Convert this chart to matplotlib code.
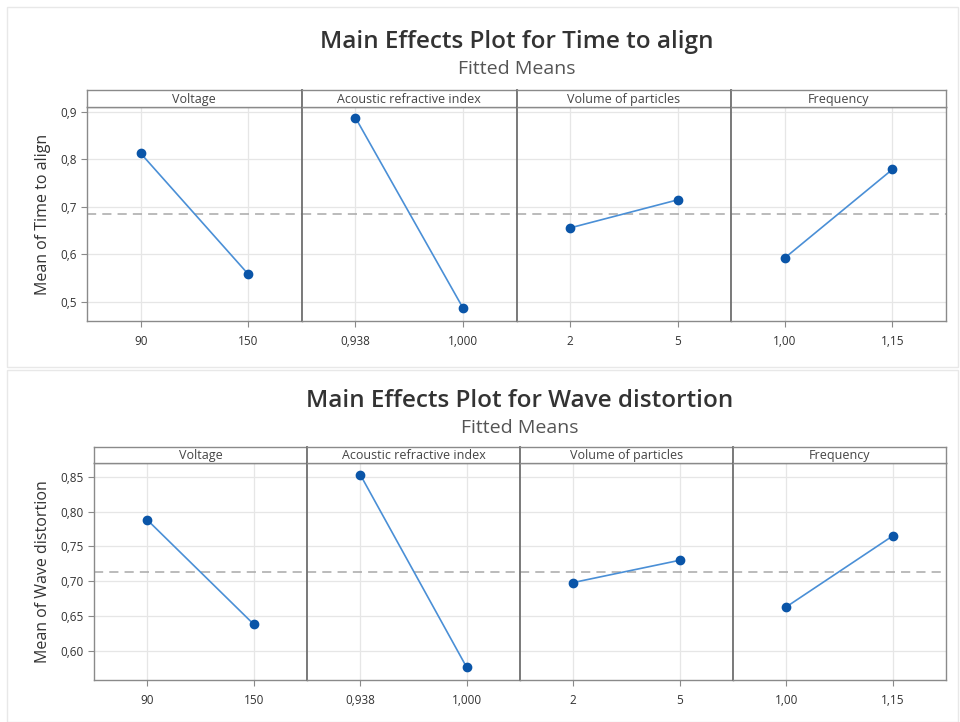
import matplotlib
matplotlib.use("Agg")
import matplotlib.pyplot as plt
from matplotlib.patches import Rectangle

plt.rcParams["font.family"] = ["Open Sans", "DejaVu Sans"]

factors = ["Voltage", "Acoustic refractive index", "Volume of particles", "Frequency"]
level_labels = [["90", "150"], ["0,938", "1,000"], ["2", "5"], ["1,00", "1,15"]]

time_means = [[0.813, 0.559], [0.888, 0.488], [0.656, 0.715], [0.593, 0.779]]
time_overall = 0.686
time_ticks = [0.5, 0.6, 0.7, 0.8, 0.9]
time_ticklabels = ["0,5", "0,6", "0,7", "0,8", "0,9"]

wave_means = [[0.788, 0.638], [0.853, 0.576], [0.698, 0.730], [0.663, 0.765]]
wave_overall = 0.713
wave_ticks = [0.60, 0.65, 0.70, 0.75, 0.80, 0.85]
wave_ticklabels = ["0,60", "0,65", "0,70", "0,75", "0,80", "0,85"]

W, H = 960, 722
LINE = "#4a8fd6"
DOT = "#0a55a8"
FRAME = "#8a8a8a"


def box(x0, y0, x1, y1):
    return [x0 / W, 1 - y1 / H, (x1 - x0) / W, (y1 - y0) / H]


def draw_chart(fig, title, ylabel, means, overall, ylim, ticks, ticklabels,
               left, right, strip_top, plot_top, bottom, title_y, ylabel_x):
    pw = (right - left) / len(factors)
    for i, name in enumerate(factors):
        x0 = left + i * pw
        ax = fig.add_axes(box(x0, plot_top, x0 + pw, bottom))
        ax.plot([0, 1], means[i], color=LINE, lw=1.2, zorder=3)
        ax.plot([0, 1], means[i], "o", color=DOT, ms=6, zorder=4)
        ax.axhline(overall, color="#a8a8a8", lw=1.1, ls=(0, (6, 4)), zorder=2)
        ax.set_xlim(-0.5, 1.5)
        ax.set_ylim(*ylim)
        ax.set_xticks([0, 1])
        ax.set_xticklabels(level_labels[i])
        ax.set_yticks(ticks)
        ax.grid(True, color="#e6e6e6", lw=0.9, zorder=0)
        ax.tick_params(axis="x", length=4, color=FRAME, labelsize=8.5, colors="#333333", pad=6)
        if i == 0:
            ax.set_yticklabels(ticklabels)
            ax.tick_params(axis="y", length=4, color=FRAME, labelsize=8.5, colors="#333333")
        else:
            ax.tick_params(axis="y", length=0, labelleft=False)
        for s in ax.spines.values():
            s.set_color(FRAME)
            s.set_linewidth(1.0)
        if i > 0:
            ax.spines["left"].set_color("#707070")
            ax.spines["left"].set_linewidth(1.3)

        strip = fig.add_axes(box(x0, strip_top, x0 + pw, plot_top))
        strip.set_xticks([])
        strip.set_yticks([])
        for s in strip.spines.values():
            s.set_color(FRAME)
            s.set_linewidth(1.0)
        if i > 0:
            strip.spines["left"].set_color("#707070")
            strip.spines["left"].set_linewidth(1.3)
        strip.text(0.5, 0.45, name, ha="center", va="center", fontsize=9,
                   color="#444444", transform=strip.transAxes)

    cx = (left + right) / 2 / W
    fig.text(cx, 1 - title_y / H, title, ha="center", va="center",
             fontsize=17.5, fontweight="semibold", color="#333333")
    fig.text(cx, 1 - (title_y + 27) / H, "Fitted Means", ha="center", va="center",
             fontsize=14, color="#555555")
    fig.text(ylabel_x / W, 1 - (plot_top + bottom) / 2 / H, ylabel, rotation=90,
             ha="center", va="center", fontsize=11.5, color="#333333")


fig = plt.figure(figsize=(W / 100, H / 100), dpi=100)
fig.patch.set_facecolor("white")

for (x0, y0, x1, y1) in [(7, 7, 958, 367), (7, 370, 958, 722)]:
    fig.patches.append(Rectangle((x0 / W, 1 - y1 / H), (x1 - x0) / W, (y1 - y0) / H,
                                 transform=fig.transFigure, fill=False,
                                 edgecolor="#e8e8e8", lw=1.0))

draw_chart(fig, "Main Effects Plot for Time to align", "Mean of Time to align",
           time_means, time_overall, (0.46, 0.9105), time_ticks, time_ticklabels,
           87, 946, 90, 107, 321, 42, 43)

draw_chart(fig, "Main Effects Plot for Wave distortion", "Mean of Wave distortion",
           wave_means, wave_overall, (0.558, 0.8697), wave_ticks, wave_ticklabels,
           94, 946, 447, 463, 680, 401, 43)

fig.savefig("out.png", dpi=100)
